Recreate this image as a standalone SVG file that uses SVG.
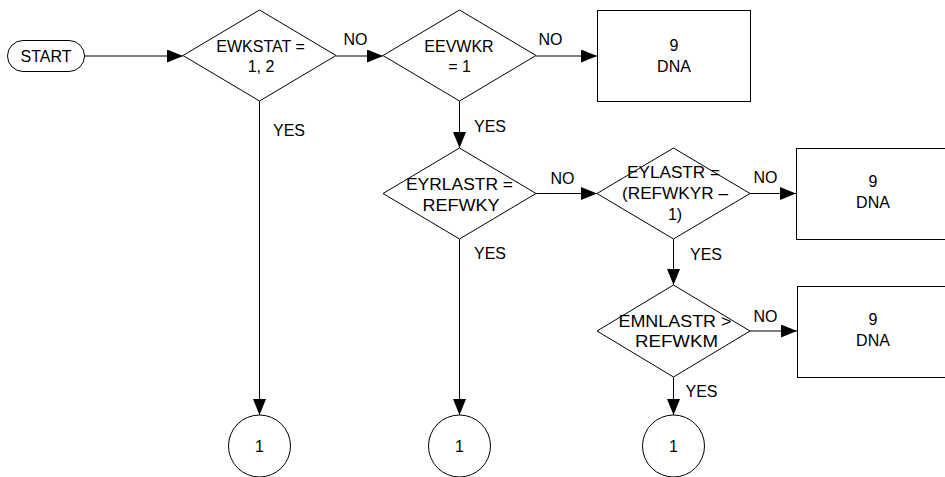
<svg xmlns="http://www.w3.org/2000/svg" width="945" height="477" viewBox="0 0 945 477">
<defs>
<marker id="arr" markerWidth="16" markerHeight="13" refX="16" refY="6.5" orient="auto" markerUnits="userSpaceOnUse">
<path d="M0,0 L16,6.5 L0,13 Z" fill="#000"/>
</marker>
<style>
.s{fill:#fff;stroke:#000;stroke-width:1}
.t{font-family:"Liberation Sans",Arial,sans-serif;font-size:16px;fill:#000;text-anchor:middle}
.c{fill:none;stroke:#000;stroke-width:1;marker-end:url(#arr)}
</style>
</defs>
<rect width="945" height="477" fill="#fff"/>
<g id="connectors">
<line class="c" x1="85" y1="56" x2="183" y2="56"/>
<line class="c" x1="336" y1="56" x2="383" y2="56"/>
<line class="c" x1="536" y1="56" x2="597" y2="56"/>
<line class="c" x1="259.5" y1="101" x2="259.5" y2="415"/>
<line class="c" x1="459.5" y1="101" x2="459.5" y2="148"/>
<line class="c" x1="536" y1="193.5" x2="597" y2="193.5"/>
<line class="c" x1="459.5" y1="239" x2="459.5" y2="415"/>
<line class="c" x1="750" y1="193.5" x2="796" y2="193.5"/>
<line class="c" x1="673.5" y1="239" x2="673.5" y2="285"/>
<line class="c" x1="750" y1="331" x2="797" y2="331"/>
<line class="c" x1="673.5" y1="377" x2="673.5" y2="415"/>
<text class="t" x="355.5" y="45">NO</text>
<text class="t" x="550.5" y="45">NO</text>
<text class="t" x="289" y="136">YES</text>
<text class="t" x="490" y="132">YES</text>
<text class="t" x="562.5" y="184">NO</text>
<text class="t" x="490" y="259">YES</text>
<text class="t" x="765.5" y="183">NO</text>
<text class="t" x="706" y="260">YES</text>
<text class="t" x="765.5" y="322">NO</text>
<text class="t" x="701.5" y="397">YES</text>
</g>
<g id="start">
<rect class="s" x="7.5" y="40.5" width="77" height="31" rx="15.5"/>
<text class="t" x="46" y="62">START</text>
</g>
<g id="d1">
<polygon class="s" points="259.5,10 336,55.5 259.5,101 183,55.5"/>
<text class="t" x="260.5" y="52">EWKSTAT =</text>
<text class="t" x="261" y="72">1, 2</text>
</g>
<g id="d2">
<polygon class="s" points="459.5,10 536,55.5 459.5,101 383,55.5"/>
<text class="t" x="459" y="52">EEVWKR</text>
<text class="t" x="459.5" y="72">= 1</text>
</g>
<g id="box1">
<rect class="s" x="597.5" y="10.5" width="153" height="91"/>
<text class="t" x="674" y="51">9</text>
<text class="t" x="674" y="72">DNA</text>
</g>
<g id="d3">
<polygon class="s" points="459.5,148 536,193.5 459.5,239 383,193.5"/>
<text class="t" x="459.5" y="190" textLength="107" lengthAdjust="spacingAndGlyphs">EYRLASTR =</text>
<text class="t" x="461" y="211" textLength="77" lengthAdjust="spacingAndGlyphs">REFWKY</text>
</g>
<g id="d4">
<polygon class="s" points="673.5,148 750,193.5 673.5,239 597,193.5"/>
<text class="t" x="673.5" y="178" textLength="93" lengthAdjust="spacingAndGlyphs">EYLASTR =</text>
<text class="t" x="675" y="199" textLength="106" lengthAdjust="spacingAndGlyphs">(REFWKYR –</text>
<text class="t" x="675" y="220">1)</text>
</g>
<g id="box2">
<rect class="s" x="796.5" y="148.5" width="154" height="91"/>
<text class="t" x="873" y="187">9</text>
<text class="t" x="873" y="208">DNA</text>
</g>
<g id="d5">
<polygon class="s" points="673.5,285 750,331 673.5,377 597,331"/>
<text class="t" x="675" y="327" textLength="113" lengthAdjust="spacingAndGlyphs">EMNLASTR &gt;</text>
<text class="t" x="676.5" y="347" textLength="83" lengthAdjust="spacingAndGlyphs">REFWKM</text>
</g>
<g id="box3">
<rect class="s" x="797.5" y="286.5" width="154" height="91"/>
<text class="t" x="873" y="325">9</text>
<text class="t" x="873" y="346">DNA</text>
</g>
<g id="c1">
<circle class="s" cx="259.5" cy="446" r="31"/>
<text class="t" x="259.5" y="452">1</text>
</g>
<g id="c2">
<circle class="s" cx="459.5" cy="446" r="31"/>
<text class="t" x="459.5" y="452">1</text>
</g>
<g id="c3">
<circle class="s" cx="673.5" cy="446" r="31"/>
<text class="t" x="673.5" y="452">1</text>
</g>
</svg>
